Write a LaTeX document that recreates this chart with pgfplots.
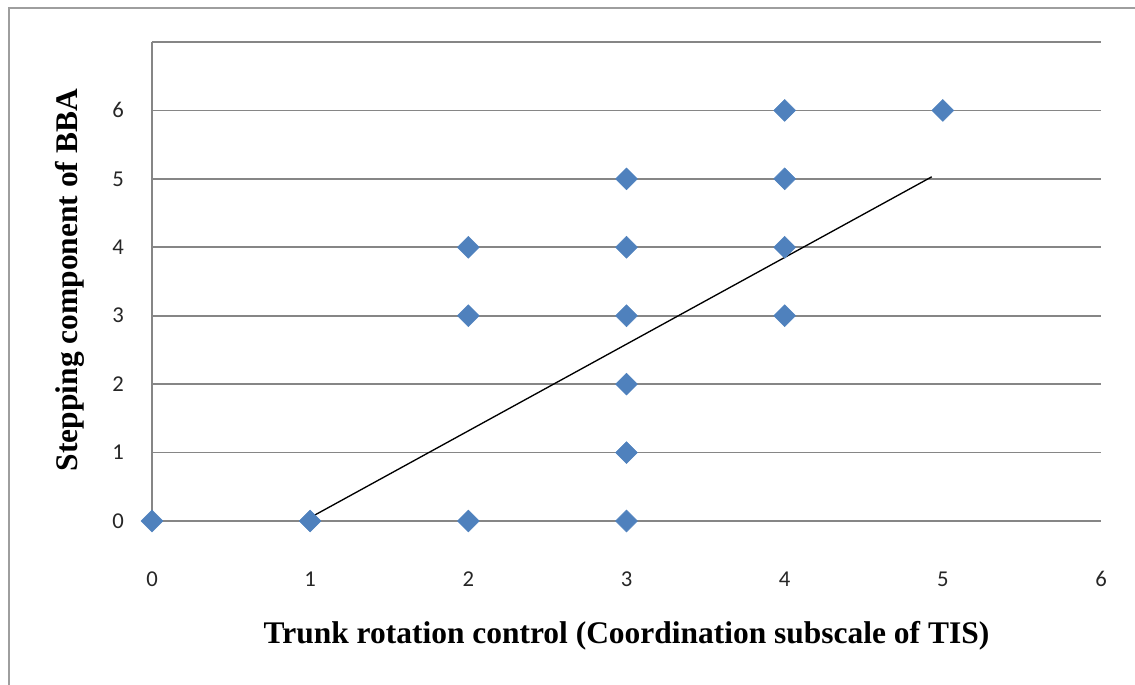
\documentclass[border=0pt]{standalone}
\usepackage{fontspec}
\setmainfont{Carlito}
\newfontfamily\lserif{Liberation Serif}
\usepackage{pgfplots}
\pgfplotsset{compat=1.18}
\definecolor{exblue}{HTML}{4F81BD}
\definecolor{gridgray}{HTML}{868686}
\begin{document}
\begin{tikzpicture}
\path[use as bounding box] (-114pt,-123pt) rectangle (737.25pt,390.75pt);
\draw[gridgray!80, line width=1.2pt] (-107.25pt,-130pt) -- (-107.25pt,384.75pt) -- (745pt,384.75pt);
\begin{axis}[
  scale only axis,
  width=711.75pt, height=359.25pt,
  xmin=0, xmax=6, ymin=0, ymax=7,
  xtick={0,...,6}, ytick={0,...,7},
  yticklabels={0,1,2,3,4,5,6,{}},
  /pgf/number format/assume math mode=true,
  ticklabel style={font=\fontsize{17}{19}\selectfont, text=black!85},
  xticklabel style={anchor=center, yshift=-43.5pt},
  yticklabel style={anchor=center, xshift=-25.5pt},
  major tick length=0pt,
  ymajorgrids,
  grid style={gridgray, line width=1.3pt},
  separate axis lines,
  axis x line*=bottom,
  axis y line*=left,
  x axis line style={draw=none},
  y axis line style={gridgray, line width=1.3pt},
  clip=false,
  xlabel={\lserif\bfseries Trunk rotation control (Coordination subscale of TIS)},
  ylabel={\lserif\bfseries Stepping component of BBA},
  xlabel style={at={(axis description cs:0.5,-0.240)}, anchor=center, font=\fontsize{23.6}{26}\selectfont},
  ylabel style={at={(axis description cs:-0.0864,0.503)}, anchor=center, rotate=0, font=\fontsize{23.6}{26}\selectfont},
]
\addplot[only marks, mark=square*, mark size=5.8pt, mark options={rotate=45, fill=exblue, draw=exblue}]
coordinates {
(0,0) (1,0) (2,0) (3,0)
(3,1) (3,2) (3,3) (3,4) (3,5)
(2,3) (2,4)
(4,3) (4,4) (4,5) (4,6)
(5,6)
};
\addplot[black, line width=1pt] coordinates {(1.0,0.05) (4.93,5.03)};
\end{axis}
\end{tikzpicture}
\end{document}
